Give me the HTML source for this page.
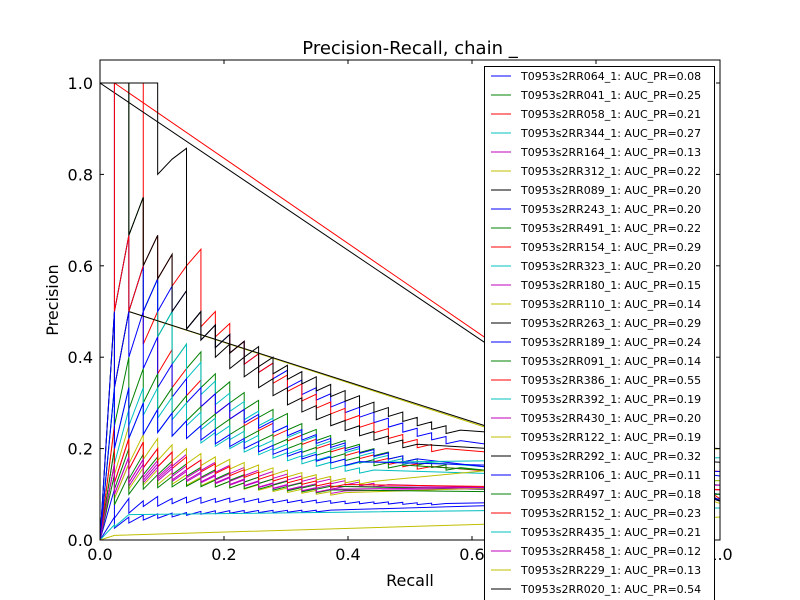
<!DOCTYPE html>
<html><head><meta charset="utf-8"><style>
html,body{margin:0;padding:0;background:#fff;}
svg{display:block;font-family:"DejaVu Sans","Liberation Sans",sans-serif;}
</style></head><body>
<svg id="chart" width="800" height="600" viewBox="0 0 800 600">
<rect x="0" y="0" width="800" height="600" fill="#fff"/>
<text x="410" y="54" font-size="18" text-anchor="middle">Precision-Recall, chain _</text>
<text x="410" y="586" font-size="16" text-anchor="middle">Recall</text>
<text x="58" y="300" font-size="16" text-anchor="middle" transform="rotate(-90 58 300)">Precision</text>
<defs><clipPath id="pc"><rect x="100" y="60" width="620" height="480"/></clipPath></defs>
<g id="series" clip-path="url(#pc)"></g>
<rect x="100" y="60" width="620" height="480" fill="none" stroke="#000" stroke-width="1"/>
<g id="ticks"></g>
<g id="legend"></g>
</svg>
<script>
const P = 43;
const xTicks = [0.0, 0.2, 0.4, 0.6, 0.8, 1.0];
const yTicks = [0.0, 0.2, 0.4, 0.6, 0.8, 1.0];
const names = ["T0953s2RR064_1","T0953s2RR041_1","T0953s2RR058_1","T0953s2RR344_1","T0953s2RR164_1","T0953s2RR312_1","T0953s2RR089_1","T0953s2RR243_1","T0953s2RR491_1","T0953s2RR154_1","T0953s2RR323_1","T0953s2RR180_1","T0953s2RR110_1","T0953s2RR263_1","T0953s2RR189_1","T0953s2RR091_1","T0953s2RR386_1","T0953s2RR392_1","T0953s2RR430_1","T0953s2RR122_1","T0953s2RR292_1","T0953s2RR106_1","T0953s2RR497_1","T0953s2RR152_1","T0953s2RR435_1","T0953s2RR458_1","T0953s2RR229_1","T0953s2RR020_1","T0953s2RR324_1"];
const aucs = ["0.08","0.25","0.21","0.27","0.13","0.22","0.20","0.20","0.22","0.29","0.20","0.15","0.14","0.29","0.24","0.14","0.55","0.19","0.20","0.19","0.32","0.11","0.18","0.23","0.21","0.12","0.13","0.54","0.20"];
const startPrec = [0,1,1,0,0,0,1,1,0,1,0,0,0,0,0,0,1,0,0,0,1,0,0,0,0,0,0,1,0];
const tailPrec = [0.09,0.1,0.11,0.12,0.1,0.08,0.085,0.1,0.12,0.09,0.13,0.11,0.2,0.085,0.14,0.1,0.15,0.18,0.12,0.13,0.17,0.09,0.1,0.11,0.07,0.12,0.05,0.2,0.15];
const hitRanks = [
[9,22,35,42,55,64,75,88,98,110,122,135,148,160,172,186,200,215,228,240,255,270,285,300],
[1,2,4,7,10,14,17,22,26,31,36,42,47,55,62,70,78,86,95,104,114,124,135,146,158],
[1,2,3,8,12,16,20,25,30,35,41,47,54,61,68,76,84,93,102,112,122,132,143],
[2,3,5,7,10,14,18,23,28,33,39,45,52,59,66,74,82,90,99,108,118,128],
[5,9,14,20,26,32,40,47,55,63,72,80,90,100,110,120,131,142,153,165],
[2,4],
[],
[1,3,6,9,13,17,21,25,30,35,40,46,52,58,65,72,80,88,96,105,114,124],
[3,5,8,11,15,19,24,29,34,40,46,52,59,66,74,82,90,99,108,118,128],
[1],
[3,7,10,14,18,23,28,34,40,46,53,60,68,76,85,94,104,114,124],
[6,11,17,23,30,37,45,53,62,71,80,90,100,111,122,133,145],
[4,8,13,18,24,30,37,44,51,59,67,76,85,95,105,115,126,137,148],
[2,4],
[2,4,5,7,9,11,14,17,20,23,27,31,35,40,45,50,56,62,68,75,82,90,98,106,115],
[5,10,16,22,29,36,44,52,61,70,80,90,101,112,124,136],
[1,3,5,6,8,10,11,16,19,23,27,31,36,41,47,53,59,66,74,82,91,100,110,120],
[3,6,9,12,16,20,25,30,36,42,48,55,62,70,78,87,96,106],
[6,12,18,25,32,40,48,57,66,76,86,97,108,120,132,145,158],
[6,12,19,26,34,42,51,60,70,80,91,102,114,126,138,151,164],
[1,2,4,6,8,11,14,17,21,25,29,34,39,45,51,58,65,72,80,88,96,105],
[20,40,55,70,85,100,112,125,140,155,170,185,200,215,230,245],
[7,14,21,28,36,44,52,61,70,80,90,100,111,122,134,146],
[4,9,14,20,26,33,40,48,56,65,74,84,94,105,116,128,140],
[30,36],
[6,11,17,24,31,39,47,56,65,75,85,96,107,119,131,144],
[100],
[1,2,3,4,6,7,14,17,20,23,26,30,34,38,42,47,52,57,63,69,75,82,89,96,104],
[3,6,10,14,18,23,28,33,39,45,51,58,65,72,80,88,96,105]
];
const palette = ["#0000ff","#008000","#ff0000","#00bfbf","#bf00bf","#bfbf00","#000000"];
const NS = "http://www.w3.org/2000/svg";
function sx(r){ return 100 + r * 620; }
function sy(p){ return 540 - p * 457; }

const sg = document.getElementById('series');
hitRanks.forEach((ranks, i) => {
  const pts = [[0, startPrec[i]]];
  let k = 0;
  const last = ranks.length ? ranks[ranks.length - 1] : 0;
  const set = new Set(ranks);
  for (let n = 1; n <= last; n++) {
    if (set.has(n)) k++;
    pts.push([k / P, k / n]);
  }
  pts.push([1, tailPrec[i]]);
  const pl = document.createElementNS(NS, 'polyline');
  pl.setAttribute('points', pts.map(p => sx(p[0]).toFixed(2) + ',' + sy(p[1]).toFixed(2)).join(' '));
  pl.setAttribute('fill', 'none');
  pl.setAttribute('stroke', palette[i % 7]);
  pl.setAttribute('stroke-width', '1');
  
  
  sg.appendChild(pl);
});

const tg = document.getElementById('ticks');
xTicks.forEach(v => {
  const x = sx(v);
  [[540, 536], [60, 64]].forEach(([a, b]) => {
    const l = document.createElementNS(NS, 'line');
    l.setAttribute('x1', x); l.setAttribute('x2', x); l.setAttribute('y1', a); l.setAttribute('y2', b);
    l.setAttribute('stroke', '#000');
    
    
    tg.appendChild(l);
  });
  const t = document.createElementNS(NS, 'text');
  t.setAttribute('x', x); t.setAttribute('y', 560);
  t.setAttribute('font-size', '16'); t.setAttribute('text-anchor', 'middle');
  t.textContent = v.toFixed(1);
  
  
  tg.appendChild(t);
});
yTicks.forEach(v => {
  const y = sy(v);
  [[100, 104], [720, 716]].forEach(([a, b]) => {
    const l = document.createElementNS(NS, 'line');
    l.setAttribute('x1', a); l.setAttribute('x2', b); l.setAttribute('y1', y); l.setAttribute('y2', y);
    l.setAttribute('stroke', '#000');
    
    
    tg.appendChild(l);
  });
  const t = document.createElementNS(NS, 'text');
  t.setAttribute('x', 93); t.setAttribute('y', y + 6);
  t.setAttribute('font-size', '16'); t.setAttribute('text-anchor', 'end');
  t.textContent = v.toFixed(1);
  
  
  tg.appendChild(t);
});

const lg = document.getElementById('legend');
const box = document.createElementNS(NS, 'rect');
box.setAttribute('x', 484.5); box.setAttribute('y', 66.5);
box.setAttribute('width', 230); box.setAttribute('height', 560);
box.setAttribute('fill', '#fff'); box.setAttribute('stroke', '#000');


lg.appendChild(box);
names.forEach((nm, i) => {
  const y = 76 + i * 19;
  const g = document.createElementNS(NS, 'g');
  
  
  const l = document.createElementNS(NS, 'line');
  l.setAttribute('x1', 491); l.setAttribute('x2', 511); l.setAttribute('y1', y); l.setAttribute('y2', y);
  l.setAttribute('stroke', palette[i % 7]);
  
  
  g.appendChild(l);
  const t = document.createElementNS(NS, 'text');
  t.setAttribute('x', 521); t.setAttribute('y', y + 4);
  t.setAttribute('font-size', '11');
  t.textContent = nm + ': AUC_PR=' + aucs[i];
  
  
  g.appendChild(t);
  lg.appendChild(g);
});
</script>
</body></html>
